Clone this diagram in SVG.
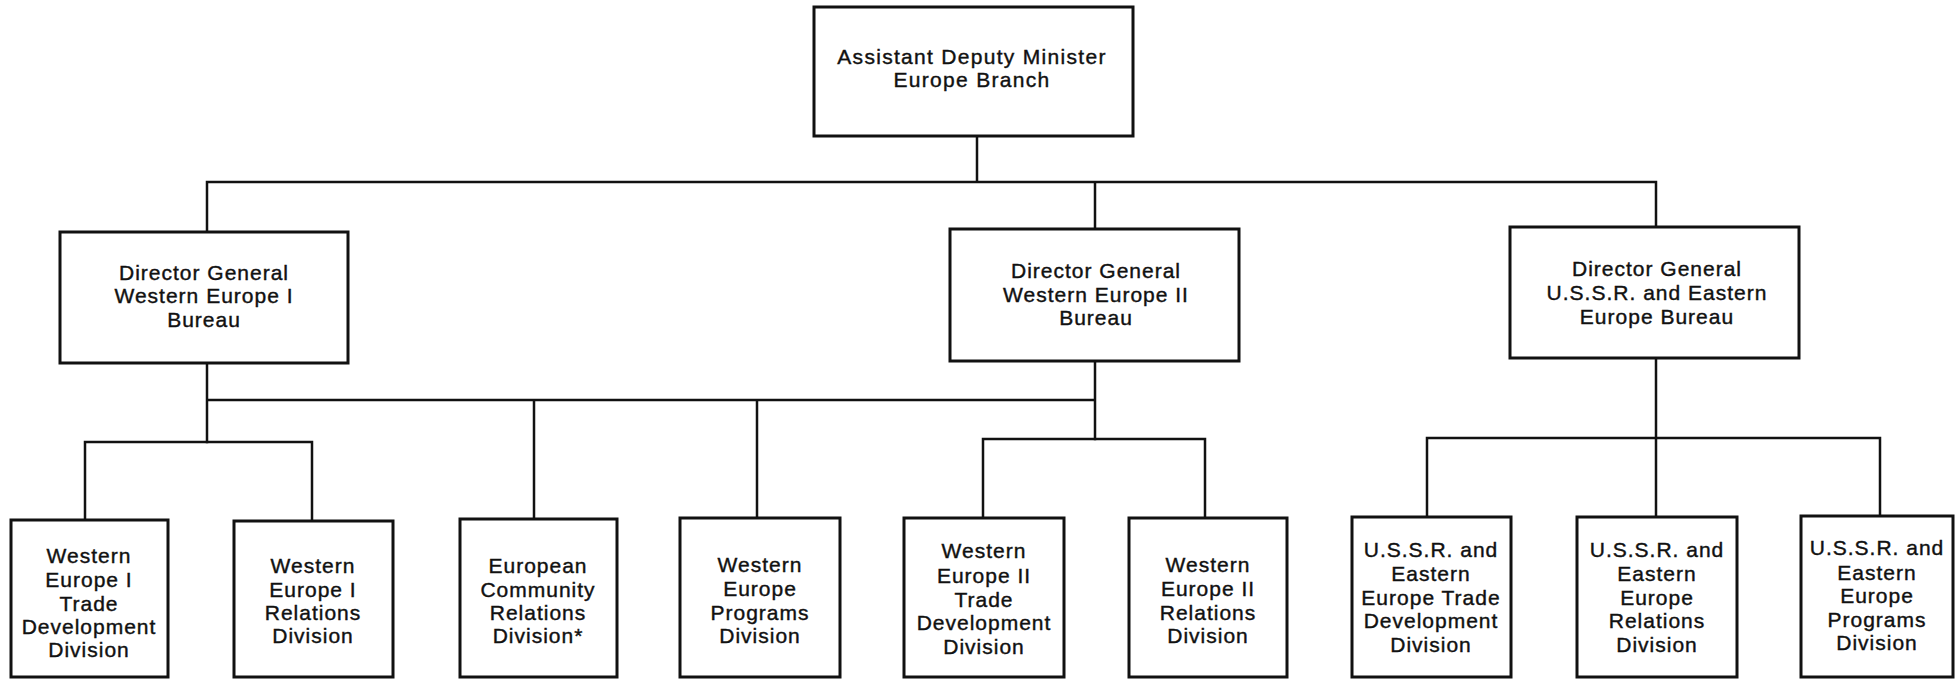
<svg xmlns="http://www.w3.org/2000/svg" width="1956" height="679" viewBox="0 0 1956 679">
<style>
.box{fill:#fff;stroke:#111;stroke-width:3}
.ln{fill:none;stroke:#111;stroke-width:2.5;stroke-linecap:square}
text{font-family:"Liberation Sans",Arial,sans-serif;font-size:21px;fill:#111;stroke:#111;stroke-width:0.4;text-anchor:middle;letter-spacing:1px}
.top{letter-spacing:1.3px}
</style>
<rect width="1956" height="679" fill="#fff"/>
<g id="connectors">
<path class="ln" d="M977 136V182M207 182H1656M207 182V232M1095 182V229M1656 182V227"/>
<path class="ln" d="M207 363V442M207 400H1095M1095 361V439M534 400V519M757 400V518"/>
<path class="ln" d="M85 442H312M85 442V520M312 442V521"/>
<path class="ln" d="M983 439H1205M983 439V518M1205 439V518"/>
<path class="ln" d="M1656 358V517M1427 438H1880M1427 438V517M1880 438V516"/>
</g>
<g id="adm">
<rect class="box" x="814" y="7" width="319" height="129"/>
<text class="top" x="972" y="64">Assistant Deputy Minister</text>
<text class="top" x="972" y="87">Europe Branch</text>
</g>
<g id="dg-we1">
<rect class="box" x="60" y="232" width="288" height="131"/>
<text x="204" y="280">Director General</text>
<text x="204" y="303">Western Europe I</text>
<text x="204" y="327">Bureau</text>
</g>
<g id="dg-we2">
<rect class="box" x="950" y="229" width="289" height="132"/>
<text x="1096" y="278">Director General</text>
<text x="1096" y="302">Western Europe II</text>
<text x="1096" y="325">Bureau</text>
</g>
<g id="dg-ussr">
<rect class="box" x="1510" y="227" width="289" height="131"/>
<text x="1657" y="276">Director General</text>
<text x="1657" y="300">U.S.S.R. and Eastern</text>
<text x="1657" y="324">Europe Bureau</text>
</g>
<g id="we1-trade">
<rect class="box" x="11" y="520" width="157" height="157"/>
<text x="89" y="563">Western</text>
<text x="89" y="587">Europe I</text>
<text x="89" y="611">Trade</text>
<text x="89" y="634">Development</text>
<text x="89" y="657">Division</text>
</g>
<g id="we1-rel">
<rect class="box" x="234" y="521" width="159" height="156"/>
<text x="313" y="573">Western</text>
<text x="313" y="597">Europe I</text>
<text x="313" y="620">Relations</text>
<text x="313" y="643">Division</text>
</g>
<g id="ec-rel">
<rect class="box" x="460" y="519" width="157" height="158"/>
<text x="538" y="573">European</text>
<text x="538" y="597">Community</text>
<text x="538" y="620">Relations</text>
<text x="538" y="643">Division*</text>
</g>
<g id="we-prog">
<rect class="box" x="680" y="518" width="160" height="159"/>
<text x="760" y="572">Western</text>
<text x="760" y="596">Europe</text>
<text x="760" y="620">Programs</text>
<text x="760" y="643">Division</text>
</g>
<g id="we2-trade">
<rect class="box" x="904" y="518" width="160" height="159"/>
<text x="984" y="558">Western</text>
<text x="984" y="583">Europe II</text>
<text x="984" y="607">Trade</text>
<text x="984" y="630">Development</text>
<text x="984" y="654">Division</text>
</g>
<g id="we2-rel">
<rect class="box" x="1129" y="518" width="158" height="159"/>
<text x="1208" y="572">Western</text>
<text x="1208" y="596">Europe II</text>
<text x="1208" y="620">Relations</text>
<text x="1208" y="643">Division</text>
</g>
<g id="ussr-trade">
<rect class="box" x="1352" y="517" width="159" height="160"/>
<text x="1431" y="557">U.S.S.R. and</text>
<text x="1431" y="581">Eastern</text>
<text x="1431" y="605">Europe Trade</text>
<text x="1431" y="628">Development</text>
<text x="1431" y="652">Division</text>
</g>
<g id="ussr-rel">
<rect class="box" x="1577" y="517" width="160" height="160"/>
<text x="1657" y="557">U.S.S.R. and</text>
<text x="1657" y="581">Eastern</text>
<text x="1657" y="605">Europe</text>
<text x="1657" y="628">Relations</text>
<text x="1657" y="652">Division</text>
</g>
<g id="ussr-prog">
<rect class="box" x="1801" y="516" width="152" height="161"/>
<text x="1877" y="555">U.S.S.R. and</text>
<text x="1877" y="580">Eastern</text>
<text x="1877" y="603">Europe</text>
<text x="1877" y="627">Programs</text>
<text x="1877" y="650">Division</text>
</g>
</svg>
